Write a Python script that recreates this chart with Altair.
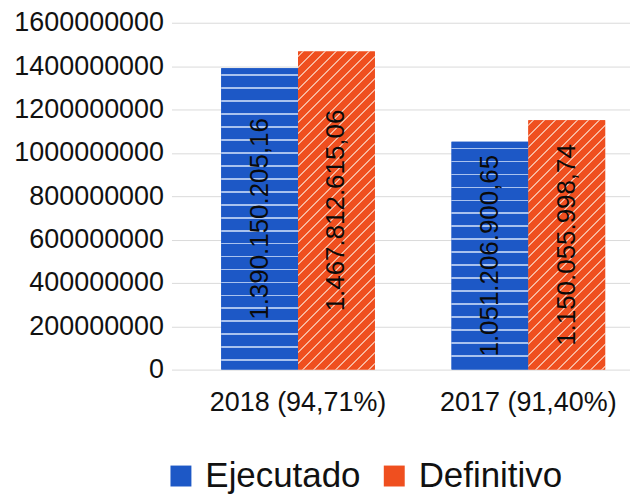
import altair as alt
import pandas as pd

years = ["2018 (94,71%)", "2017 (91,40%)"]
series = ["Ejecutado", "Definitivo"]
ejecutado = [1390150205.16, 1051206900.65]
definitivo = [1467812615.06, 1150055998.74]
y_ticks = [0, 200000000, 400000000, 600000000, 800000000,
           1000000000, 1200000000, 1400000000, 1600000000]

BLUE, BLUE_LIGHT = "#1d58c6", "#a9c2ee"
ORANGE, ORANGE_LIGHT = "#ef4f1f", "#f8b59c"
FONT = "Liberation Sans"

W, H = 460, 348
YMAX = 1600000000
PI, PO, ALIGN = 0.333, 0.162, 0.667
step = W / (2 - PI + 2 * PO)
bar_w = step * (1 - PI) / 2


def es_fmt(v):
    return f"{v:,.2f}".replace(",", "X").replace(".", ",").replace("X", ".")


rows = []
k = 0
for i, yr in enumerate(years):
    for s, vals in zip(series, [ejecutado, definitivo]):
        rows.append({"id": k, "year": yr, "serie": s, "value": vals[i],
                     "label": es_fmt(vals[i]), "mid": vals[i] / 2})
        k += 1
df = pd.DataFrame(rows)


def GS(o, c):
    return alt.GradientStop(offset=float(min(max(o, 0), 1)), color=c)


def stripe_stops(base, light, period, width, phase):
    stops = [GS(0, base)]
    t = phase
    while t + width < 1:
        stops += [GS(t, base), GS(t, light), GS(t + width, light), GS(t + width, base)]
        t += period
    stops.append(GS(1, base))
    return stops


x_enc = alt.X("year:N", sort=years,
              scale=alt.Scale(paddingInner=PI, paddingOuter=PO, align=ALIGN),
              axis=alt.Axis(title=None, labelAngle=0, ticks=False, domain=False,
                            labelPadding=20, labelFontSize=27, labelFont=FONT,
                            labelColor="#111111"))
xo_enc = alt.XOffset("serie:N", sort=series, scale=alt.Scale(domain=series))
y_enc = alt.Y("value:Q",
              scale=alt.Scale(domain=[0, YMAX], nice=False),
              axis=alt.Axis(title=None, values=y_ticks, format="d", ticks=False,
                            domain=False, labelPadding=8, labelFontSize=27,
                            labelFont=FONT, labelColor="#111111",
                            gridColor="#dadada", gridWidth=1))

base = alt.Chart(df)

solid = base.mark_bar().encode(
    x=x_enc, xOffset=xo_enc, y=y_enc,
    color=alt.Color("serie:N", sort=series,
                    scale=alt.Scale(domain=series, range=[BLUE, ORANGE]),
                    legend=alt.Legend(orient="none", legendX=-8, legendY=437,
                                      direction="horizontal", title=None,
                                      labelFontSize=35, labelFont=FONT,
                                      labelColor="#111111",
                                      symbolSize=441, symbolType="square",
                                      symbolStrokeWidth=0, labelOffset=7,
                                      columnPadding=16, padding=0)),
)

layers = [solid]
for r in rows:
    h = r["value"] / YMAX * H
    if r["serie"] == "Ejecutado":
        grad = alt.LinearGradient(
            gradient="linear", x1=0, y1=0, x2=0, y2=1,
            stops=stripe_stops(BLUE, BLUE_LIGHT, 13.0 / h, 1.8 / h, 6.0 / h))
    else:
        s = bar_w + h
        kk = s / (bar_w ** 2 + h ** 2)
        grad = alt.LinearGradient(
            gradient="linear", x1=0, y1=0, x2=bar_w * kk, y2=h * kk,
            stops=stripe_stops(ORANGE, ORANGE_LIGHT, 11.0 / s, 2.0 / s, 4.0 / s))
    layers.append(
        base.mark_bar(fill=grad).encode(x=x_enc, xOffset=xo_enc, y=y_enc)
        .transform_filter(alt.datum.id == r["id"])
    )

text = base.mark_text(angle=270, fontSize=26, font=FONT, color="#0a0a0a",
                      align="center", baseline="middle").encode(
    x=x_enc, xOffset=xo_enc,
    y=alt.Y("mid:Q", scale=alt.Scale(domain=[0, YMAX], nice=False)),
    text="label:N",
)
layers.append(text)

chart = alt.layer(*layers).properties(
    width=W, height=H,
    padding={"left": 164, "top": 14, "right": 0, "bottom": 125},
    autosize="none",
).configure_view(stroke=None)

chart.save("out.html", embed_options={"renderer": "svg", "actions": False})
